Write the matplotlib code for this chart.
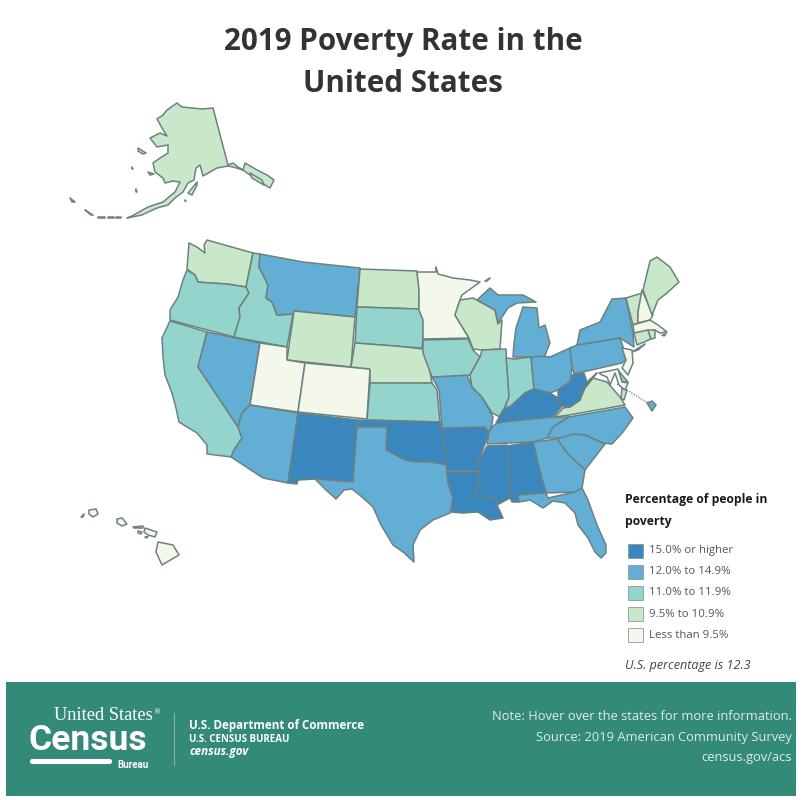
import matplotlib
matplotlib.use("Agg")
import matplotlib.pyplot as plt
from matplotlib.patches import Polygon, Rectangle, FancyBboxPatch

# legend
BIN_LABELS = ["15.0% or higher", "12.0% to 14.9%", "11.0% to 11.9%", "9.5% to 10.9%", "Less than 9.5%"]
BIN_COLORS = ["#3a86bf", "#62aed5", "#93d4cc", "#c8e8c9", "#f3f8ea"]
EDGE = "#6d8280"

# poverty class of each state, index into BIN_LABELS
HIGHEST = ["NM", "OK", "AR", "LA", "MS", "AL", "KY", "WV"]
HIGH = ["MT", "NV", "AZ", "TX", "MO", "TN", "GA", "SC", "NC", "FL", "OH", "MI", "MIU", "PA", "NY", "LI", "DC"]
MIDDLE = ["OR", "CA", "ID", "SD", "IA", "KS", "IL", "IN", "DE"]
LOW = ["WA", "ND", "WY", "NE", "WI", "VA", "ME", "VT", "CT", "RI", "AK"]
LOWEST = ["MN", "UT", "CO", "NJ", "MD", "NH", "MA", "HI"]

# state outlines in map units
WA = [(207,240),(253,253),(246,287),(227,284),(210,283),(198,282),(195,275),(187,269),(189,243),(197,247),(205,253),(204,245)]
OR = [(187,270),(195,275),(198,282),(210,283),(227,284),(246,287),(249,293),(239,308),(240,317),(234,337),(170,320),(170,310),(178,297),(183,280)]
CA = [(170,321),(207,332),(198,367),(238,427),(242,438),(234,450),(232,457),(207,454),(207,445),(197,433),(179,422),(176,408),(172,393),(165,375),(163,357),(162,338)]
NV = [(207,332),(260,343),(250,405),(242,413),(238,427),(198,367)]
ID = [(253,253),(260,254),(259,267),(268,285),(266,298),(272,302),(277,315),(293,314),(287,347),(234,337),(240,317),(239,308),(249,293),(246,287)]
MT = [(260,254),(303,262),(360,268),(355,317),(294,311),(293,314),(277,315),(272,302),(266,298),(268,285),(259,267)]
WY = [(294,311),(355,317),(351,367),(287,360)]
UT = [(260,343),(287,347),(287,360),(305,363),(298,412),(250,405)]
CO = [(305,363),(370,369),(367,419),(298,412)]
AZ = [(250,405),(298,413),(288,483),(263,478),(231,457),(234,450),(242,438),(238,427),(242,413)]
NM = [(298,413),(358,420),(353,482),(315,479),(298,480),(297,484),(288,483)]
ND = [(360,269),(417,271),(419,288),(419,309),(357,307)]
SD = [(357,307),(419,309),(423,320),(423,338),(422,348),(405,347),(395,346),(355,343)]
NE = [(355,343),(395,346),(405,347),(423,349),(428,360),(432,383),(370,383),(370,369),(351,367)]
KS = [(370,383),(432,383),(437,390),(440,422),(367,420)]
OK = [(358,420),(440,422),(443,437),(447,465),(430,462),(415,462),(405,460),(386,450),(387,427),(357,427)]
TX = [(357,427),(387,427),(386,450),(405,460),(415,462),(430,462),(447,465),(447,472),(448,482),(453,498),(450,513),(433,520),(420,530),(413,545),(414,562),(403,552),(393,545),(381,525),(373,507),(362,497),(352,489),(344,490),(336,499),(326,490),(315,479),(353,482)]
LA = [(447,472),(478,472),(480,480),(474,496),(496,497),(497,505),(503,518),(490,520),(478,512),(463,513),(451,512),(453,498),(448,482)]
AR = [(442,428),(485,427),(489,433),(478,463),(478,471),(447,471),(446,460)]
MO = [(432,377),(467,375),(472,387),(482,397),(493,417),(492,425),(489,432),(485,427),(442,428),(439,390)]
IA = [(423,340),(468,339),(473,350),(480,357),(470,375),(432,377),(423,353)]
MN = [(417,272),(436,272),(436,267),(438,274),(453,278),(470,280),(480,282),(462,295),(460,300),(455,315),(469,338),(423,339),(423,320),(419,310),(419,290)]
MN_ISLE = [(485,281),(490,278),(487,281)]
WI = [(460,300),(473,298),(495,310),(498,324),(502,320),(500,349),(482,350),(473,349),(469,338),(455,315)]
IL = [(482,350),(506,349),(507,367),(509,397),(505,407),(500,417),(492,413),(482,397),(472,387),(470,375),(480,357)]
IN = [(506,358),(515,359),(531,357),(534,389),(525,393),(510,407),(505,407),(509,397),(507,367)]
OH = [(531,356),(550,357),(570,348),(572,367),(570,382),(558,390),(550,393),(534,389)]
MI = [(513,357),(514,343),(516,328),(523,307),(537,308),(539,328),(545,325),(550,343),(547,350),(545,356),(531,357)]
MIU = [(477,300),(490,288),(498,295),(523,295),(536,302),(517,303),(508,308),(498,323),(495,310)]
KY = [(496,423),(503,410),(510,407),(525,393),(534,389),(550,393),(558,398),(562,406),(553,417),(503,422)]
TN = [(492,427),(496,424),(503,422),(553,417),(569,417),(553,427),(547,438),(533,442),(487,444),(489,433)]
WV = [(558,390),(570,382),(572,375),(584,373),(587,382),(597,373),(593,378),(583,390),(580,400),(570,407),(562,406),(558,398)]
VA = [(555,417),(563,408),(570,407),(580,400),(585,388),(593,378),(607,382),(620,397),(625,405),(569,415)]
VA_SHORE = [(622,388),(627,390),(624,400),(621,398)]
NC = [(569,417),(625,407),(633,418),(623,432),(612,444),(603,443),(585,435),(557,438),(547,438),(553,427)]
SC = [(557,439),(573,434),(585,435),(605,444),(585,470),(567,453)]
GA = [(533,442),(557,439),(567,453),(585,470),(582,488),(575,492),(546,493),(543,483)]
AL = [(507,446),(533,442),(543,483),(546,493),(518,495),(519,502),(512,502),(510,498)]
MS = [(487,446),(507,445),(510,498),(497,505),(496,497),(474,496),(480,480),(478,463)]
FL = [(518,495),(546,493),(548,498),(575,492),(582,488),(588,500),(597,525),(606,545),(606,553),(601,558),(595,552),(588,538),(578,525),(575,513),(565,503),(553,501),(543,508),(535,503),(530,500),(519,502)]
PA = [(570,348),(577,345),(620,338),(627,358),(622,363),(574,374),(572,367)]
NY = [(577,345),(580,330),(600,322),(612,299),(626,298),(633,333),(634,347),(620,338)]
LI = [(632,352),(645,344),(638,350)]
VT = [(626,298),(642,293),(638,312),(638,323),(633,325)]
NH = [(642,290),(653,315),(650,320),(638,323),(638,312)]
ME = [(650,261),(657,257),(670,267),(679,282),(667,293),(658,300),(652,315),(643,290)]
MA = [(633,325),(650,320),(658,325),(667,332),(660,333),(655,330),(634,333)]
MA_ISLAND = [(662,335),(666,334),(664,336)]
CT = [(634,333),(648,330),(651,339),(637,345)]
RI = [(648,330),(655,330),(655,338),(651,339)]
NJ = [(622,348),(632,350),(633,363),(628,375),(622,368),(626,360)]
DE = [(618,370),(628,382),(622,382)]
MD = [(599,373),(618,369),(622,382),(628,383),(625,390),(619,385),(615,373),(610,385),(607,377),(602,375)]
DC = [(647,403),(652,401),(656,405),(652,411)]
AK = [(177,103),(182,107),(192,108),(202,109),(213,108),(228,165),(233,163),(238,167),(243,170),(245,163),(257,170),(267,175),(274,180),(270,188),(260,182),(250,175),(243,170),(233,167),(228,166),(217,168),(203,176),(200,165),(196,168),(194,180),(188,183),(183,192),(175,198),(168,205),(157,208),(142,215),(127,218),(132,216),(148,207),(163,202),(175,192),(180,182),(173,181),(165,183),(163,178),(155,172),(153,163),(160,158),(168,153),(168,145),(157,147),(150,138),(160,133),(167,136),(162,128),(157,119),(163,115),(167,110)]
AK_INNER = [(250,173),(262,180),(264,185),(252,178)]
AK_KODIAK = [(197,182),(188,193),(192,195),(197,185)]
AK_STLAWRENCE = [(138,148),(146,153),(143,154),(138,151)]
AK_NUNIVAK = [(148,172),(154,174),(150,175)]
AK_SPECK1 = [(70,198),(75,202),(72,202)]
AK_SPECK2 = [(85,210),(93,215),(91,215)]
AK_SPECK3 = [(98,217),(105,217),(105,218),(98,218)]
AK_SPECK3B = [(108,217),(114,217),(114,218),(108,218)]
AK_SPECK3C = [(116,217),(121,217),(121,218),(116,218)]
AK_SPECK4 = [(136,189),(137,192),(136,192)]
AK_SPECK5 = [(132,167),(133,169),(132,169)]
AK_SPECK8 = [(185,200),(186,201),(185,201)]
HI = [(158,542),(173,545),(179,555),(162,565),(156,552)]
HI_MAUI = [(145,528),(157,532),(155,537),(148,535),(144,532)]
HI_MOLOKAI = [(133,527),(143,526),(143,528),(134,528)]
HI_OAHU = [(117,519),(122,518),(127,524),(122,526),(117,523)]
HI_KAUAI = [(89,510),(96,509),(98,514),(93,517),(89,514)]
HI_NIIHAU = [(81,517),(84,514),(83,517)]
HI_LANAI = [(138,531),(142,532),(141,534),(138,533)]
HI_KAHOOLAWE = [(145,537),(148,537),(146,538)]
DC_LEADER_X = [617, 648]
DC_LEADER_Y = [384, 403]

shapes = dict(WA=WA, OR=OR, CA=CA, NV=NV, ID=ID, MT=MT, WY=WY, UT=UT, CO=CO, AZ=AZ, NM=NM, ND=ND, SD=SD, NE=NE,
              KS=KS, OK=OK, TX=TX, LA=LA, AR=AR, MO=MO, IA=IA, MN=MN, WI=WI, IL=IL, IN=IN, OH=OH, MI=MI, MIU=MIU,
              KY=KY, TN=TN, VA=VA, WV=WV, NC=NC, SC=SC, GA=GA, AL=AL, MS=MS, FL=FL, PA=PA, NY=NY, LI=LI, VT=VT,
              NH=NH, ME=ME, MA=MA, CT=CT, RI=RI, NJ=NJ, DE=DE, MD=MD, DC=DC, AK=AK, HI=HI)
extras = {"AK": [AK_INNER, AK_KODIAK, AK_STLAWRENCE, AK_NUNIVAK, AK_SPECK1, AK_SPECK2, AK_SPECK3, AK_SPECK3B,
                 AK_SPECK3C, AK_SPECK4, AK_SPECK5, AK_SPECK8],
          "HI": [HI_MAUI, HI_MOLOKAI, HI_OAHU, HI_KAUAI, HI_NIIHAU, HI_LANAI, HI_KAHOOLAWE],
          "MN": [MN_ISLE], "VA": [VA_SHORE], "MA": [MA_ISLAND]}

fig = plt.figure(figsize=(8.02, 8.00), dpi=100)
ax = fig.add_axes([0, 0, 1, 1])
ax.set_xlim(0, 802)
ax.set_ylim(800, 0)
ax.axis("off")

classes = [HIGHEST, HIGH, MIDDLE, LOW, LOWEST]
fill = {}
for i, group in enumerate(classes):
    for st in group:
        fill[st] = BIN_COLORS[i]

ax.plot(DC_LEADER_X, DC_LEADER_Y, color="#7d8a8a", lw=1, ls=(0, (1, 1)), zorder=1)
for st, pts in shapes.items():
    for part in [pts] + extras.get(st, []):
        ax.add_patch(Polygon(part, closed=True, facecolor=fill[st], edgecolor=EDGE, lw=1.1, joinstyle="round", zorder=2))

ax.text(403, 42, "2019 Poverty Rate in the", ha="center", va="center", fontsize=21.3, fontweight="bold", family="Open Sans", color="#333333")
ax.text(403, 84, "United States", ha="center", va="center", fontsize=21.3, fontweight="bold", family="Open Sans", color="#333333")

# legend block
ax.text(625, 500, "Percentage of people in", va="center", fontsize=8.7, fontweight="bold", family="Open Sans", color="#1a1a1a")
ax.text(625, 521, "poverty", va="center", fontsize=8.7, fontweight="bold", family="Open Sans", color="#1a1a1a")
for i, (lab, col) in enumerate(zip(BIN_LABELS, BIN_COLORS)):
    yy = 550.5 + i * 21.2
    ax.add_patch(Rectangle((628, yy - 7), 15, 14, facecolor=col, edgecolor="#8a9a98", lw=0.6))
    ax.text(649, yy, lab, va="center", fontsize=8.2, family="Open Sans", color="#555555")
ax.text(625, 666, "U.S. percentage is 12.3", va="center", fontsize=9.1, style="italic", family="Open Sans", color="#444444")

# footer
ax.add_patch(Rectangle((6, 682), 790, 114, facecolor="#348a78", edgecolor="none"))
ax.text(792, 716, "Note: Hover over the states for more information.", ha="right", va="center", fontsize=9.3, family="Open Sans", color="#dcece8")
ax.text(792, 737, "Source: 2019 American Community Survey", ha="right", va="center", fontsize=9.3, family="Open Sans", color="#dcece8")
ax.text(792, 758, "census.gov/acs", ha="right", va="center", fontsize=9.3, family="Open Sans", color="#dcece8")

ax.text(54, 716, "United States", va="center", fontsize=13.2, family="Liberation Serif", color="white")
ax.text(154, 712, "®", va="center", fontsize=5, family="DejaVu Sans", color="white")
ax.text(28, 741, "Census", va="center", fontsize=25.5, fontweight="bold", family="Roboto", color="white")
ax.text(117, 765, "Bureau", va="center", fontsize=7, fontweight="bold", family="Roboto", color="white")
ax.add_patch(FancyBboxPatch((31, 760), 80, 3, boxstyle="round,pad=0,rounding_size=1.5", facecolor="white", edgecolor="white", lw=1.5))
ax.plot([174, 174], [713, 765], color="#7db5a9", lw=0.8)
ax.text(189, 725, "U.S. Department of Commerce", va="center", fontsize=8.4, fontweight="bold", family="Open Sans", color="white")
ax.text(189, 739, "U.S. CENSUS BUREAU", va="center", fontsize=7.0, fontweight="bold", family="Open Sans", color="white")
ax.text(189, 752, "census.gov", va="center", fontsize=8.4, fontweight="bold", style="italic", family="Open Sans", color="white")

fig.savefig("out.png", dpi=100, facecolor="white")
